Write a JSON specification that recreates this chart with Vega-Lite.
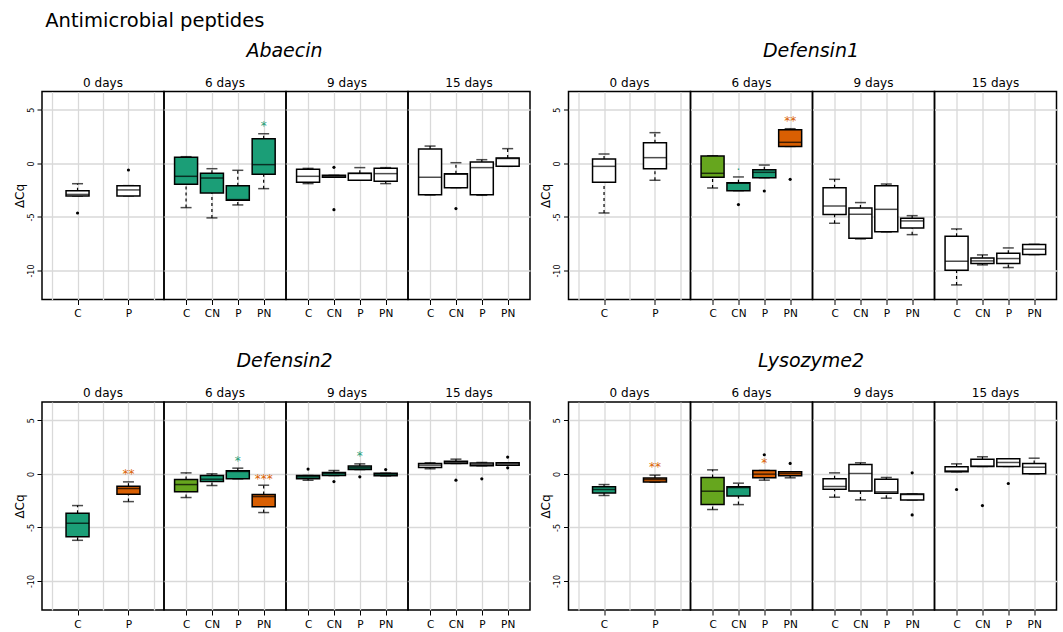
{
"$schema": "https://vega.github.io/schema/vega-lite/v6.json",
"padding": {"left": 12, "top": 10.5, "right": 5, "bottom": 0},
"title": {"text": "Antimicrobial peptides", "anchor": "start", "fontSize": 19.5, "fontWeight": "normal", "offset": -5, "dx": 33, "baseline": "alphabetic"},
"data": {"values": [
{"gene":"Abaecin","day":"0 days","grp":"C","lo":-3.05,"q1":-3.05,"med":-2.9,"q3":-2.55,"hi":-1.9,"fill":"ns"},
{"gene":"Abaecin","day":"0 days","grp":"P","lo":-3.04,"q1":-3.04,"med":-2.48,"q3":-2.08,"hi":-2.08,"fill":"ns"},
{"gene":"Abaecin","day":"6 days","grp":"C","lo":-4.13,"q1":-1.96,"med":-1.21,"q3":0.56,"hi":0.62,"fill":"sigA"},
{"gene":"Abaecin","day":"6 days","grp":"CN","lo":-5.09,"q1":-2.76,"med":-1.37,"q3":-0.93,"hi":-0.5,"fill":"sigA"},
{"gene":"Abaecin","day":"6 days","grp":"P","lo":-3.88,"q1":-3.45,"med":-3.38,"q3":-2.08,"hi":-0.65,"fill":"sigA"},
{"gene":"Abaecin","day":"6 days","grp":"PN","lo":-2.36,"q1":-1.02,"med":-0.12,"q3":2.3,"hi":2.76,"fill":"sigA"},
{"gene":"Abaecin","day":"9 days","grp":"C","lo":-1.89,"q1":-1.77,"med":-1.21,"q3":-0.56,"hi":-0.47,"fill":"ns"},
{"gene":"Abaecin","day":"9 days","grp":"CN","lo":-1.3,"q1":-1.3,"med":-1.21,"q3":-1.12,"hi":-1.12,"fill":"ns"},
{"gene":"Abaecin","day":"9 days","grp":"P","lo":-1.58,"q1":-1.58,"med":-0.95,"q3":-0.93,"hi":-0.4,"fill":"ns"},
{"gene":"Abaecin","day":"9 days","grp":"PN","lo":-1.89,"q1":-1.68,"med":-0.96,"q3":-0.47,"hi":-0.4,"fill":"ns"},
{"gene":"Abaecin","day":"15 days","grp":"C","lo":-2.95,"q1":-2.92,"med":-1.3,"q3":1.34,"hi":1.61,"fill":"ns"},
{"gene":"Abaecin","day":"15 days","grp":"CN","lo":-2.27,"q1":-2.27,"med":-1.02,"q3":-0.96,"hi":0.06,"fill":"ns"},
{"gene":"Abaecin","day":"15 days","grp":"P","lo":-2.98,"q1":-2.92,"med":-0.4,"q3":0.12,"hi":0.34,"fill":"ns"},
{"gene":"Abaecin","day":"15 days","grp":"PN","lo":-0.28,"q1":-0.28,"med":0.45,"q3":0.5,"hi":1.37,"fill":"ns"},
{"gene":"Abaecin","day":"0 days","grp":"C","out":-4.63},
{"gene":"Abaecin","day":"0 days","grp":"P","out":-0.62},
{"gene":"Abaecin","day":"9 days","grp":"CN","out":-0.37},
{"gene":"Abaecin","day":"9 days","grp":"CN","out":-4.32},
{"gene":"Abaecin","day":"15 days","grp":"CN","out":-4.22},
{"gene":"Abaecin","day":"6 days","grp":"PN","sy":3.73,"sig":"*","fill":"sigA"},

{"gene":"Defensin1","day":"0 days","grp":"C","lo":-4.63,"q1":-1.77,"med":-0.28,"q3":0.4,"hi":0.87,"fill":"ns"},
{"gene":"Defensin1","day":"0 days","grp":"P","lo":-1.58,"q1":-0.5,"med":0.53,"q3":1.93,"hi":2.86,"fill":"ns"},
{"gene":"Defensin1","day":"6 days","grp":"C","lo":-2.3,"q1":-1.3,"med":-0.93,"q3":0.68,"hi":0.71,"fill":"ref"},
{"gene":"Defensin1","day":"6 days","grp":"CN","lo":-2.55,"q1":-2.55,"med":-1.86,"q3":-1.8,"hi":-1.27,"fill":"sigA"},
{"gene":"Defensin1","day":"6 days","grp":"P","lo":-1.34,"q1":-1.34,"med":-0.84,"q3":-0.59,"hi":-0.16,"fill":"sigA"},
{"gene":"Defensin1","day":"6 days","grp":"PN","lo":1.58,"q1":1.58,"med":1.96,"q3":3.14,"hi":3.23,"fill":"sigB"},
{"gene":"Defensin1","day":"9 days","grp":"C","lo":-5.59,"q1":-4.78,"med":-3.98,"q3":-2.27,"hi":-1.49,"fill":"ns"},
{"gene":"Defensin1","day":"9 days","grp":"CN","lo":-7.05,"q1":-6.99,"med":-4.75,"q3":-4.16,"hi":-3.66,"fill":"ns"},
{"gene":"Defensin1","day":"9 days","grp":"P","lo":-6.4,"q1":-6.37,"med":-4.29,"q3":-2.08,"hi":-1.93,"fill":"ns"},
{"gene":"Defensin1","day":"9 days","grp":"PN","lo":-6.65,"q1":-6.02,"med":-5.37,"q3":-5.12,"hi":-4.88,"fill":"ns"},
{"gene":"Defensin1","day":"15 days","grp":"C","lo":-11.34,"q1":-9.97,"med":-9.13,"q3":-6.8,"hi":-6.12,"fill":"ns"},
{"gene":"Defensin1","day":"15 days","grp":"CN","lo":-9.47,"q1":-9.35,"med":-9.1,"q3":-8.82,"hi":-8.54,"fill":"ns"},
{"gene":"Defensin1","day":"15 days","grp":"P","lo":-9.72,"q1":-9.35,"med":-8.88,"q3":-8.39,"hi":-7.89,"fill":"ns"},
{"gene":"Defensin1","day":"15 days","grp":"PN","lo":-8.51,"q1":-8.51,"med":-8.01,"q3":-7.58,"hi":-7.55,"fill":"ns"},
{"gene":"Defensin1","day":"6 days","grp":"CN","out":-3.85},
{"gene":"Defensin1","day":"6 days","grp":"P","out":-2.58},
{"gene":"Defensin1","day":"6 days","grp":"PN","out":-1.49},
{"gene":"Defensin1","day":"6 days","grp":"CN","sy":-0.31,"sig":"·","fill":"sigA"},
{"gene":"Defensin1","day":"6 days","grp":"PN","sy":4.19,"sig":"**","fill":"sigB"},

{"gene":"Defensin2","day":"0 days","grp":"C","lo":-6.2,"q1":-5.86,"med":-4.61,"q3":-3.68,"hi":-2.96,"fill":"sigA"},
{"gene":"Defensin2","day":"0 days","grp":"P","lo":-2.59,"q1":-1.9,"med":-1.37,"q3":-1.15,"hi":-0.75,"fill":"sigB"},
{"gene":"Defensin2","day":"6 days","grp":"C","lo":-2.21,"q1":-1.68,"med":-1.0,"q3":-0.53,"hi":0.09,"fill":"ref"},
{"gene":"Defensin2","day":"6 days","grp":"CN","lo":-1.09,"q1":-0.72,"med":-0.5,"q3":-0.16,"hi":0.0,"fill":"sigA"},
{"gene":"Defensin2","day":"6 days","grp":"P","lo":-0.47,"q1":-0.47,"med":0.22,"q3":0.28,"hi":0.53,"fill":"sigA"},
{"gene":"Defensin2","day":"6 days","grp":"PN","lo":-3.61,"q1":-3.08,"med":-2.12,"q3":-1.93,"hi":-1.06,"fill":"sigB"},
{"gene":"Defensin2","day":"9 days","grp":"C","lo":-0.6,"q1":-0.47,"med":-0.28,"q3":-0.16,"hi":-0.16,"fill":"sigA"},
{"gene":"Defensin2","day":"9 days","grp":"CN","lo":-0.16,"q1":-0.16,"med":0.03,"q3":0.12,"hi":0.31,"fill":"sigA"},
{"gene":"Defensin2","day":"9 days","grp":"P","lo":0.4,"q1":0.4,"med":0.56,"q3":0.72,"hi":0.93,"fill":"sigA"},
{"gene":"Defensin2","day":"9 days","grp":"PN","lo":-0.19,"q1":-0.19,"med":-0.03,"q3":0.06,"hi":0.06,"fill":"sigA"},
{"gene":"Defensin2","day":"15 days","grp":"C","lo":0.47,"q1":0.59,"med":0.81,"q3":0.97,"hi":1.03,"fill":"ns"},
{"gene":"Defensin2","day":"15 days","grp":"CN","lo":0.97,"q1":0.97,"med":1.06,"q3":1.18,"hi":1.37,"fill":"ns"},
{"gene":"Defensin2","day":"15 days","grp":"P","lo":0.75,"q1":0.75,"med":0.87,"q3":1.0,"hi":1.06,"fill":"ns"},
{"gene":"Defensin2","day":"15 days","grp":"PN","lo":0.81,"q1":0.81,"med":0.93,"q3":1.03,"hi":1.03,"fill":"ns"},
{"gene":"Defensin2","day":"9 days","grp":"C","out":0.44},
{"gene":"Defensin2","day":"9 days","grp":"CN","out":-0.72},
{"gene":"Defensin2","day":"9 days","grp":"P","out":-0.28},
{"gene":"Defensin2","day":"9 days","grp":"PN","out":0.4},
{"gene":"Defensin2","day":"15 days","grp":"CN","out":-0.59},
{"gene":"Defensin2","day":"15 days","grp":"P","out":-0.47},
{"gene":"Defensin2","day":"15 days","grp":"PN","out":1.56},
{"gene":"Defensin2","day":"15 days","grp":"PN","out":0.56},
{"gene":"Defensin2","day":"0 days","grp":"P","sy":0.22,"sig":"**","fill":"sigB"},
{"gene":"Defensin2","day":"6 days","grp":"P","sy":1.5,"sig":"*","fill":"sigA"},
{"gene":"Defensin2","day":"6 days","grp":"PN","sy":-0.16,"sig":"***","fill":"sigB"},
{"gene":"Defensin2","day":"9 days","grp":"P","sy":1.93,"sig":"*","fill":"sigA"},

{"gene":"Lysozyme2","day":"0 days","grp":"C","lo":-2.02,"q1":-1.78,"med":-1.46,"q3":-1.21,"hi":-1.0,"fill":"sigA"},
{"gene":"Lysozyme2","day":"0 days","grp":"P","lo":-0.78,"q1":-0.75,"med":-0.53,"q3":-0.4,"hi":-0.12,"fill":"sigB"},
{"gene":"Lysozyme2","day":"6 days","grp":"C","lo":-3.33,"q1":-2.87,"med":-1.62,"q3":-0.34,"hi":0.37,"fill":"ref"},
{"gene":"Lysozyme2","day":"6 days","grp":"CN","lo":-2.87,"q1":-2.06,"med":-1.28,"q3":-1.21,"hi":-0.87,"fill":"sigA"},
{"gene":"Lysozyme2","day":"6 days","grp":"P","lo":-0.59,"q1":-0.37,"med":-0.03,"q3":0.31,"hi":0.31,"fill":"sigB"},
{"gene":"Lysozyme2","day":"6 days","grp":"PN","lo":-0.37,"q1":-0.19,"med":0.03,"q3":0.19,"hi":0.19,"fill":"sigB"},
{"gene":"Lysozyme2","day":"9 days","grp":"C","lo":-2.18,"q1":-1.43,"med":-1.18,"q3":-0.47,"hi":0.09,"fill":"ns"},
{"gene":"Lysozyme2","day":"9 days","grp":"CN","lo":-2.43,"q1":-1.59,"med":0.03,"q3":0.87,"hi":1.03,"fill":"ns"},
{"gene":"Lysozyme2","day":"9 days","grp":"P","lo":-2.27,"q1":-1.81,"med":-1.68,"q3":-0.5,"hi":-0.34,"fill":"ns"},
{"gene":"Lysozyme2","day":"9 days","grp":"PN","lo":-2.43,"q1":-2.43,"med":-1.93,"q3":-1.87,"hi":-1.87,"fill":"ns"},
{"gene":"Lysozyme2","day":"15 days","grp":"C","lo":0.19,"q1":0.19,"med":0.28,"q3":0.65,"hi":0.93,"fill":"ns"},
{"gene":"Lysozyme2","day":"15 days","grp":"CN","lo":0.69,"q1":0.69,"med":0.72,"q3":1.37,"hi":1.59,"fill":"ns"},
{"gene":"Lysozyme2","day":"15 days","grp":"P","lo":0.69,"q1":0.69,"med":1.06,"q3":1.4,"hi":1.4,"fill":"ns"},
{"gene":"Lysozyme2","day":"15 days","grp":"PN","lo":0.0,"q1":0.0,"med":0.62,"q3":0.97,"hi":1.46,"fill":"ns"},
{"gene":"Lysozyme2","day":"6 days","grp":"P","out":1.78},
{"gene":"Lysozyme2","day":"6 days","grp":"PN","out":0.97},
{"gene":"Lysozyme2","day":"9 days","grp":"PN","out":0.09},
{"gene":"Lysozyme2","day":"9 days","grp":"PN","out":-3.83},
{"gene":"Lysozyme2","day":"15 days","grp":"C","out":-1.46},
{"gene":"Lysozyme2","day":"15 days","grp":"CN","out":-2.96},
{"gene":"Lysozyme2","day":"15 days","grp":"P","out":-0.9},
{"gene":"Lysozyme2","day":"0 days","grp":"P","sy":0.9,"sig":"**","fill":"sigB"},
{"gene":"Lysozyme2","day":"6 days","grp":"P","sy":1.28,"sig":"*","fill":"sigB"}
]},
"transform": [{"calculate": "datum.day == '0 days' ? (datum.grp == 'C' ? 1 : 2) : indexof(['C','CN','P','PN'], datum.grp) + 1", "as": "pos"}],
"spacing": 31.5,
"vconcat": [
{"spacing": 7.5, "hconcat": [
 {"title": {"text": "Abaecin", "fontSize": 19, "fontStyle": "italic", "fontWeight": "normal", "anchor": "middle", "frame": "bounds", "dx": 13, "offset": 0, "baseline": "alphabetic"}, "spacing": 0, "bounds": "flush", "align": "none", "hconcat": [
  {"title": "0 days", "width": 122, "height": 208, "transform": [{"filter": "datum.gene == 'Abaecin' && datum.day == '0 days'"}],
   "encoding": {"x": {"field": "pos", "type": "quantitative", "title": null, "scale": {"domain": [0.4, 2.6], "nice": false, "zero": false}, "axis": {"values": [0.5, 1, 1.5, 2, 2.5], "labelExpr": "datum.value == 1 ? 'C' : datum.value == 2 ? 'P' : ''", "tickOpacity": {"condition": {"test": "datum.value % 1 == 0", "value": 1}, "value": 0}}}},
   "layer": [
    {"mark": {"type": "rule", "strokeDash": [3, 3], "strokeWidth": 1.2, "color": "black"}, "transform": [{"filter": "isValid(datum.q3)"}], "encoding": {"y": {"field": "q3", "type": "quantitative", "scale": {"domain": [-12.7, 6.7], "nice": false, "zero": false}, "axis": {"title": "ΔCq", "values": [-10, -5, 0, 5], "labelExpr": "'' + datum.value", "labelAngle": 270, "labelFontSize": 8, "tickSize": 5, "titleFontSize": 12, "titleFontWeight": "normal", "titlePadding": 1, "labelPadding": 2}}, "y2": {"field": "hi"}}},
    {"mark": {"type": "rule", "strokeDash": [3, 3], "strokeWidth": 1.2, "color": "black"}, "transform": [{"filter": "isValid(datum.q1)"}], "encoding": {"y": {"field": "lo", "type": "quantitative"}, "y2": {"field": "q1"}}},
    {"mark": {"type": "tick", "orient": "horizontal", "size": 11, "thickness": 1.5, "color": "black"}, "transform": [{"filter": "isValid(datum.hi)"}], "encoding": {"y": {"field": "hi", "type": "quantitative"}}},
    {"mark": {"type": "tick", "orient": "horizontal", "size": 11, "thickness": 1.5, "color": "black"}, "transform": [{"filter": "isValid(datum.lo)"}], "encoding": {"y": {"field": "lo", "type": "quantitative"}}},
    {"mark": {"type": "bar", "orient": "vertical", "size": 23, "stroke": "black", "strokeWidth": 1.5}, "transform": [{"filter": "isValid(datum.q1)"}], "encoding": {"y": {"field": "q1", "type": "quantitative"}, "y2": {"field": "q3"}, "fill": {"field": "fill", "type": "nominal", "scale": {"domain": ["ns", "sigA", "sigB", "ref"], "range": ["white", "#1b9e77", "#d95f02", "#66a61e"]}, "legend": null}}},
    {"mark": {"type": "tick", "orient": "horizontal", "size": 23, "thickness": 1.5, "color": "black"}, "transform": [{"filter": "isValid(datum.med)"}], "encoding": {"y": {"field": "med", "type": "quantitative"}}},
    {"mark": {"type": "point", "filled": true, "size": 10, "color": "black", "opacity": 1}, "transform": [{"filter": "isValid(datum.out)"}], "encoding": {"y": {"field": "out", "type": "quantitative"}}},
    {"mark": {"type": "text", "fontSize": 12, "baseline": "middle", "dy": 3}, "transform": [{"filter": "isValid(datum.sy)"}], "encoding": {"y": {"field": "sy", "type": "quantitative"}, "text": {"field": "sig"}, "fill": {"field": "fill", "type": "nominal", "scale": {"domain": ["ns", "sigA", "sigB", "ref"], "range": ["white", "#1b9e77", "#d95f02", "#66a61e"]}, "legend": null}}}
   ]},
  {"title": "6 days", "width": 122, "height": 208, "transform": [{"filter": "datum.gene == 'Abaecin' && datum.day == '6 days'"}],
   "encoding": {"x": {"field": "pos", "type": "quantitative", "title": null, "scale": {"domain": [0.34, 4.67], "nice": false, "zero": false}, "axis": {"values": [1, 2, 3, 4], "labelExpr": "['C','CN','P','PN'][datum.value - 1]"}}},
   "layer": [
    {"mark": {"type": "rule", "strokeDash": [3, 3], "strokeWidth": 1.2, "color": "black"}, "transform": [{"filter": "isValid(datum.q3)"}], "encoding": {"y": {"field": "q3", "type": "quantitative", "scale": {"domain": [-12.7, 6.7], "nice": false, "zero": false}, "axis": {"title": null, "values": [-10, -5, 0, 5], "labels": false, "ticks": false}}, "y2": {"field": "hi"}}},
    {"mark": {"type": "rule", "strokeDash": [3, 3], "strokeWidth": 1.2, "color": "black"}, "transform": [{"filter": "isValid(datum.q1)"}], "encoding": {"y": {"field": "lo", "type": "quantitative"}, "y2": {"field": "q1"}}},
    {"mark": {"type": "tick", "orient": "horizontal", "size": 11, "thickness": 1.5, "color": "black"}, "transform": [{"filter": "isValid(datum.hi)"}], "encoding": {"y": {"field": "hi", "type": "quantitative"}}},
    {"mark": {"type": "tick", "orient": "horizontal", "size": 11, "thickness": 1.5, "color": "black"}, "transform": [{"filter": "isValid(datum.lo)"}], "encoding": {"y": {"field": "lo", "type": "quantitative"}}},
    {"mark": {"type": "bar", "orient": "vertical", "size": 23, "stroke": "black", "strokeWidth": 1.5}, "transform": [{"filter": "isValid(datum.q1)"}], "encoding": {"y": {"field": "q1", "type": "quantitative"}, "y2": {"field": "q3"}, "fill": {"field": "fill", "type": "nominal", "scale": {"domain": ["ns", "sigA", "sigB", "ref"], "range": ["white", "#1b9e77", "#d95f02", "#66a61e"]}, "legend": null}}},
    {"mark": {"type": "tick", "orient": "horizontal", "size": 23, "thickness": 1.5, "color": "black"}, "transform": [{"filter": "isValid(datum.med)"}], "encoding": {"y": {"field": "med", "type": "quantitative"}}},
    {"mark": {"type": "point", "filled": true, "size": 10, "color": "black", "opacity": 1}, "transform": [{"filter": "isValid(datum.out)"}], "encoding": {"y": {"field": "out", "type": "quantitative"}}},
    {"mark": {"type": "text", "fontSize": 12, "baseline": "middle", "dy": 3}, "transform": [{"filter": "isValid(datum.sy)"}], "encoding": {"y": {"field": "sy", "type": "quantitative"}, "text": {"field": "sig"}, "fill": {"field": "fill", "type": "nominal", "scale": {"domain": ["ns", "sigA", "sigB", "ref"], "range": ["white", "#1b9e77", "#d95f02", "#66a61e"]}, "legend": null}}}
   ]},
  {"title": "9 days", "width": 122, "height": 208, "transform": [{"filter": "datum.gene == 'Abaecin' && datum.day == '9 days'"}],
   "encoding": {"x": {"field": "pos", "type": "quantitative", "title": null, "scale": {"domain": [0.34, 4.67], "nice": false, "zero": false}, "axis": {"values": [1, 2, 3, 4], "labelExpr": "['C','CN','P','PN'][datum.value - 1]"}}},
   "layer": [
    {"mark": {"type": "rule", "strokeDash": [3, 3], "strokeWidth": 1.2, "color": "black"}, "transform": [{"filter": "isValid(datum.q3)"}], "encoding": {"y": {"field": "q3", "type": "quantitative", "scale": {"domain": [-12.7, 6.7], "nice": false, "zero": false}, "axis": {"title": null, "values": [-10, -5, 0, 5], "labels": false, "ticks": false}}, "y2": {"field": "hi"}}},
    {"mark": {"type": "rule", "strokeDash": [3, 3], "strokeWidth": 1.2, "color": "black"}, "transform": [{"filter": "isValid(datum.q1)"}], "encoding": {"y": {"field": "lo", "type": "quantitative"}, "y2": {"field": "q1"}}},
    {"mark": {"type": "tick", "orient": "horizontal", "size": 11, "thickness": 1.5, "color": "black"}, "transform": [{"filter": "isValid(datum.hi)"}], "encoding": {"y": {"field": "hi", "type": "quantitative"}}},
    {"mark": {"type": "tick", "orient": "horizontal", "size": 11, "thickness": 1.5, "color": "black"}, "transform": [{"filter": "isValid(datum.lo)"}], "encoding": {"y": {"field": "lo", "type": "quantitative"}}},
    {"mark": {"type": "bar", "orient": "vertical", "size": 23, "stroke": "black", "strokeWidth": 1.5}, "transform": [{"filter": "isValid(datum.q1)"}], "encoding": {"y": {"field": "q1", "type": "quantitative"}, "y2": {"field": "q3"}, "fill": {"field": "fill", "type": "nominal", "scale": {"domain": ["ns", "sigA", "sigB", "ref"], "range": ["white", "#1b9e77", "#d95f02", "#66a61e"]}, "legend": null}}},
    {"mark": {"type": "tick", "orient": "horizontal", "size": 23, "thickness": 1.5, "color": "black"}, "transform": [{"filter": "isValid(datum.med)"}], "encoding": {"y": {"field": "med", "type": "quantitative"}}},
    {"mark": {"type": "point", "filled": true, "size": 10, "color": "black", "opacity": 1}, "transform": [{"filter": "isValid(datum.out)"}], "encoding": {"y": {"field": "out", "type": "quantitative"}}},
    {"mark": {"type": "text", "fontSize": 12, "baseline": "middle", "dy": 3}, "transform": [{"filter": "isValid(datum.sy)"}], "encoding": {"y": {"field": "sy", "type": "quantitative"}, "text": {"field": "sig"}, "fill": {"field": "fill", "type": "nominal", "scale": {"domain": ["ns", "sigA", "sigB", "ref"], "range": ["white", "#1b9e77", "#d95f02", "#66a61e"]}, "legend": null}}}
   ]},
  {"title": "15 days", "width": 122, "height": 208, "transform": [{"filter": "datum.gene == 'Abaecin' && datum.day == '15 days'"}],
   "encoding": {"x": {"field": "pos", "type": "quantitative", "title": null, "scale": {"domain": [0.34, 4.67], "nice": false, "zero": false}, "axis": {"values": [1, 2, 3, 4], "labelExpr": "['C','CN','P','PN'][datum.value - 1]"}}},
   "layer": [
    {"mark": {"type": "rule", "strokeDash": [3, 3], "strokeWidth": 1.2, "color": "black"}, "transform": [{"filter": "isValid(datum.q3)"}], "encoding": {"y": {"field": "q3", "type": "quantitative", "scale": {"domain": [-12.7, 6.7], "nice": false, "zero": false}, "axis": {"title": null, "values": [-10, -5, 0, 5], "labels": false, "ticks": false}}, "y2": {"field": "hi"}}},
    {"mark": {"type": "rule", "strokeDash": [3, 3], "strokeWidth": 1.2, "color": "black"}, "transform": [{"filter": "isValid(datum.q1)"}], "encoding": {"y": {"field": "lo", "type": "quantitative"}, "y2": {"field": "q1"}}},
    {"mark": {"type": "tick", "orient": "horizontal", "size": 11, "thickness": 1.5, "color": "black"}, "transform": [{"filter": "isValid(datum.hi)"}], "encoding": {"y": {"field": "hi", "type": "quantitative"}}},
    {"mark": {"type": "tick", "orient": "horizontal", "size": 11, "thickness": 1.5, "color": "black"}, "transform": [{"filter": "isValid(datum.lo)"}], "encoding": {"y": {"field": "lo", "type": "quantitative"}}},
    {"mark": {"type": "bar", "orient": "vertical", "size": 23, "stroke": "black", "strokeWidth": 1.5}, "transform": [{"filter": "isValid(datum.q1)"}], "encoding": {"y": {"field": "q1", "type": "quantitative"}, "y2": {"field": "q3"}, "fill": {"field": "fill", "type": "nominal", "scale": {"domain": ["ns", "sigA", "sigB", "ref"], "range": ["white", "#1b9e77", "#d95f02", "#66a61e"]}, "legend": null}}},
    {"mark": {"type": "tick", "orient": "horizontal", "size": 23, "thickness": 1.5, "color": "black"}, "transform": [{"filter": "isValid(datum.med)"}], "encoding": {"y": {"field": "med", "type": "quantitative"}}},
    {"mark": {"type": "point", "filled": true, "size": 10, "color": "black", "opacity": 1}, "transform": [{"filter": "isValid(datum.out)"}], "encoding": {"y": {"field": "out", "type": "quantitative"}}},
    {"mark": {"type": "text", "fontSize": 12, "baseline": "middle", "dy": 3}, "transform": [{"filter": "isValid(datum.sy)"}], "encoding": {"y": {"field": "sy", "type": "quantitative"}, "text": {"field": "sig"}, "fill": {"field": "fill", "type": "nominal", "scale": {"domain": ["ns", "sigA", "sigB", "ref"], "range": ["white", "#1b9e77", "#d95f02", "#66a61e"]}, "legend": null}}}
   ]}
 ]},
 {"title": {"text": "Defensin1", "fontSize": 19, "fontStyle": "italic", "fontWeight": "normal", "anchor": "middle", "frame": "bounds", "dx": 13, "offset": 0, "baseline": "alphabetic"}, "spacing": 0, "bounds": "flush", "align": "none", "hconcat": [
  {"title": "0 days", "width": 122, "height": 208, "transform": [{"filter": "datum.gene == 'Defensin1' && datum.day == '0 days'"}],
   "encoding": {"x": {"field": "pos", "type": "quantitative", "title": null, "scale": {"domain": [0.4, 2.6], "nice": false, "zero": false}, "axis": {"values": [0.5, 1, 1.5, 2, 2.5], "labelExpr": "datum.value == 1 ? 'C' : datum.value == 2 ? 'P' : ''", "tickOpacity": {"condition": {"test": "datum.value % 1 == 0", "value": 1}, "value": 0}}}},
   "layer": [
    {"mark": {"type": "rule", "strokeDash": [3, 3], "strokeWidth": 1.2, "color": "black"}, "transform": [{"filter": "isValid(datum.q3)"}], "encoding": {"y": {"field": "q3", "type": "quantitative", "scale": {"domain": [-12.7, 6.7], "nice": false, "zero": false}, "axis": {"title": "ΔCq", "values": [-10, -5, 0, 5], "labelExpr": "'' + datum.value", "labelAngle": 270, "labelFontSize": 8, "tickSize": 5, "titleFontSize": 12, "titleFontWeight": "normal", "titlePadding": 1, "labelPadding": 2}}, "y2": {"field": "hi"}}},
    {"mark": {"type": "rule", "strokeDash": [3, 3], "strokeWidth": 1.2, "color": "black"}, "transform": [{"filter": "isValid(datum.q1)"}], "encoding": {"y": {"field": "lo", "type": "quantitative"}, "y2": {"field": "q1"}}},
    {"mark": {"type": "tick", "orient": "horizontal", "size": 11, "thickness": 1.5, "color": "black"}, "transform": [{"filter": "isValid(datum.hi)"}], "encoding": {"y": {"field": "hi", "type": "quantitative"}}},
    {"mark": {"type": "tick", "orient": "horizontal", "size": 11, "thickness": 1.5, "color": "black"}, "transform": [{"filter": "isValid(datum.lo)"}], "encoding": {"y": {"field": "lo", "type": "quantitative"}}},
    {"mark": {"type": "bar", "orient": "vertical", "size": 23, "stroke": "black", "strokeWidth": 1.5}, "transform": [{"filter": "isValid(datum.q1)"}], "encoding": {"y": {"field": "q1", "type": "quantitative"}, "y2": {"field": "q3"}, "fill": {"field": "fill", "type": "nominal", "scale": {"domain": ["ns", "sigA", "sigB", "ref"], "range": ["white", "#1b9e77", "#d95f02", "#66a61e"]}, "legend": null}}},
    {"mark": {"type": "tick", "orient": "horizontal", "size": 23, "thickness": 1.5, "color": "black"}, "transform": [{"filter": "isValid(datum.med)"}], "encoding": {"y": {"field": "med", "type": "quantitative"}}},
    {"mark": {"type": "point", "filled": true, "size": 10, "color": "black", "opacity": 1}, "transform": [{"filter": "isValid(datum.out)"}], "encoding": {"y": {"field": "out", "type": "quantitative"}}},
    {"mark": {"type": "text", "fontSize": 12, "baseline": "middle", "dy": 3}, "transform": [{"filter": "isValid(datum.sy)"}], "encoding": {"y": {"field": "sy", "type": "quantitative"}, "text": {"field": "sig"}, "fill": {"field": "fill", "type": "nominal", "scale": {"domain": ["ns", "sigA", "sigB", "ref"], "range": ["white", "#1b9e77", "#d95f02", "#66a61e"]}, "legend": null}}}
   ]},
  {"title": "6 days", "width": 122, "height": 208, "transform": [{"filter": "datum.gene == 'Defensin1' && datum.day == '6 days'"}],
   "encoding": {"x": {"field": "pos", "type": "quantitative", "title": null, "scale": {"domain": [0.34, 4.67], "nice": false, "zero": false}, "axis": {"values": [1, 2, 3, 4], "labelExpr": "['C','CN','P','PN'][datum.value - 1]"}}},
   "layer": [
    {"mark": {"type": "rule", "strokeDash": [3, 3], "strokeWidth": 1.2, "color": "black"}, "transform": [{"filter": "isValid(datum.q3)"}], "encoding": {"y": {"field": "q3", "type": "quantitative", "scale": {"domain": [-12.7, 6.7], "nice": false, "zero": false}, "axis": {"title": null, "values": [-10, -5, 0, 5], "labels": false, "ticks": false}}, "y2": {"field": "hi"}}},
    {"mark": {"type": "rule", "strokeDash": [3, 3], "strokeWidth": 1.2, "color": "black"}, "transform": [{"filter": "isValid(datum.q1)"}], "encoding": {"y": {"field": "lo", "type": "quantitative"}, "y2": {"field": "q1"}}},
    {"mark": {"type": "tick", "orient": "horizontal", "size": 11, "thickness": 1.5, "color": "black"}, "transform": [{"filter": "isValid(datum.hi)"}], "encoding": {"y": {"field": "hi", "type": "quantitative"}}},
    {"mark": {"type": "tick", "orient": "horizontal", "size": 11, "thickness": 1.5, "color": "black"}, "transform": [{"filter": "isValid(datum.lo)"}], "encoding": {"y": {"field": "lo", "type": "quantitative"}}},
    {"mark": {"type": "bar", "orient": "vertical", "size": 23, "stroke": "black", "strokeWidth": 1.5}, "transform": [{"filter": "isValid(datum.q1)"}], "encoding": {"y": {"field": "q1", "type": "quantitative"}, "y2": {"field": "q3"}, "fill": {"field": "fill", "type": "nominal", "scale": {"domain": ["ns", "sigA", "sigB", "ref"], "range": ["white", "#1b9e77", "#d95f02", "#66a61e"]}, "legend": null}}},
    {"mark": {"type": "tick", "orient": "horizontal", "size": 23, "thickness": 1.5, "color": "black"}, "transform": [{"filter": "isValid(datum.med)"}], "encoding": {"y": {"field": "med", "type": "quantitative"}}},
    {"mark": {"type": "point", "filled": true, "size": 10, "color": "black", "opacity": 1}, "transform": [{"filter": "isValid(datum.out)"}], "encoding": {"y": {"field": "out", "type": "quantitative"}}},
    {"mark": {"type": "text", "fontSize": 12, "baseline": "middle", "dy": 3}, "transform": [{"filter": "isValid(datum.sy)"}], "encoding": {"y": {"field": "sy", "type": "quantitative"}, "text": {"field": "sig"}, "fill": {"field": "fill", "type": "nominal", "scale": {"domain": ["ns", "sigA", "sigB", "ref"], "range": ["white", "#1b9e77", "#d95f02", "#66a61e"]}, "legend": null}}}
   ]},
  {"title": "9 days", "width": 122, "height": 208, "transform": [{"filter": "datum.gene == 'Defensin1' && datum.day == '9 days'"}],
   "encoding": {"x": {"field": "pos", "type": "quantitative", "title": null, "scale": {"domain": [0.34, 4.67], "nice": false, "zero": false}, "axis": {"values": [1, 2, 3, 4], "labelExpr": "['C','CN','P','PN'][datum.value - 1]"}}},
   "layer": [
    {"mark": {"type": "rule", "strokeDash": [3, 3], "strokeWidth": 1.2, "color": "black"}, "transform": [{"filter": "isValid(datum.q3)"}], "encoding": {"y": {"field": "q3", "type": "quantitative", "scale": {"domain": [-12.7, 6.7], "nice": false, "zero": false}, "axis": {"title": null, "values": [-10, -5, 0, 5], "labels": false, "ticks": false}}, "y2": {"field": "hi"}}},
    {"mark": {"type": "rule", "strokeDash": [3, 3], "strokeWidth": 1.2, "color": "black"}, "transform": [{"filter": "isValid(datum.q1)"}], "encoding": {"y": {"field": "lo", "type": "quantitative"}, "y2": {"field": "q1"}}},
    {"mark": {"type": "tick", "orient": "horizontal", "size": 11, "thickness": 1.5, "color": "black"}, "transform": [{"filter": "isValid(datum.hi)"}], "encoding": {"y": {"field": "hi", "type": "quantitative"}}},
    {"mark": {"type": "tick", "orient": "horizontal", "size": 11, "thickness": 1.5, "color": "black"}, "transform": [{"filter": "isValid(datum.lo)"}], "encoding": {"y": {"field": "lo", "type": "quantitative"}}},
    {"mark": {"type": "bar", "orient": "vertical", "size": 23, "stroke": "black", "strokeWidth": 1.5}, "transform": [{"filter": "isValid(datum.q1)"}], "encoding": {"y": {"field": "q1", "type": "quantitative"}, "y2": {"field": "q3"}, "fill": {"field": "fill", "type": "nominal", "scale": {"domain": ["ns", "sigA", "sigB", "ref"], "range": ["white", "#1b9e77", "#d95f02", "#66a61e"]}, "legend": null}}},
    {"mark": {"type": "tick", "orient": "horizontal", "size": 23, "thickness": 1.5, "color": "black"}, "transform": [{"filter": "isValid(datum.med)"}], "encoding": {"y": {"field": "med", "type": "quantitative"}}},
    {"mark": {"type": "point", "filled": true, "size": 10, "color": "black", "opacity": 1}, "transform": [{"filter": "isValid(datum.out)"}], "encoding": {"y": {"field": "out", "type": "quantitative"}}},
    {"mark": {"type": "text", "fontSize": 12, "baseline": "middle", "dy": 3}, "transform": [{"filter": "isValid(datum.sy)"}], "encoding": {"y": {"field": "sy", "type": "quantitative"}, "text": {"field": "sig"}, "fill": {"field": "fill", "type": "nominal", "scale": {"domain": ["ns", "sigA", "sigB", "ref"], "range": ["white", "#1b9e77", "#d95f02", "#66a61e"]}, "legend": null}}}
   ]},
  {"title": "15 days", "width": 122, "height": 208, "transform": [{"filter": "datum.gene == 'Defensin1' && datum.day == '15 days'"}],
   "encoding": {"x": {"field": "pos", "type": "quantitative", "title": null, "scale": {"domain": [0.34, 4.67], "nice": false, "zero": false}, "axis": {"values": [1, 2, 3, 4], "labelExpr": "['C','CN','P','PN'][datum.value - 1]"}}},
   "layer": [
    {"mark": {"type": "rule", "strokeDash": [3, 3], "strokeWidth": 1.2, "color": "black"}, "transform": [{"filter": "isValid(datum.q3)"}], "encoding": {"y": {"field": "q3", "type": "quantitative", "scale": {"domain": [-12.7, 6.7], "nice": false, "zero": false}, "axis": {"title": null, "values": [-10, -5, 0, 5], "labels": false, "ticks": false}}, "y2": {"field": "hi"}}},
    {"mark": {"type": "rule", "strokeDash": [3, 3], "strokeWidth": 1.2, "color": "black"}, "transform": [{"filter": "isValid(datum.q1)"}], "encoding": {"y": {"field": "lo", "type": "quantitative"}, "y2": {"field": "q1"}}},
    {"mark": {"type": "tick", "orient": "horizontal", "size": 11, "thickness": 1.5, "color": "black"}, "transform": [{"filter": "isValid(datum.hi)"}], "encoding": {"y": {"field": "hi", "type": "quantitative"}}},
    {"mark": {"type": "tick", "orient": "horizontal", "size": 11, "thickness": 1.5, "color": "black"}, "transform": [{"filter": "isValid(datum.lo)"}], "encoding": {"y": {"field": "lo", "type": "quantitative"}}},
    {"mark": {"type": "bar", "orient": "vertical", "size": 23, "stroke": "black", "strokeWidth": 1.5}, "transform": [{"filter": "isValid(datum.q1)"}], "encoding": {"y": {"field": "q1", "type": "quantitative"}, "y2": {"field": "q3"}, "fill": {"field": "fill", "type": "nominal", "scale": {"domain": ["ns", "sigA", "sigB", "ref"], "range": ["white", "#1b9e77", "#d95f02", "#66a61e"]}, "legend": null}}},
    {"mark": {"type": "tick", "orient": "horizontal", "size": 23, "thickness": 1.5, "color": "black"}, "transform": [{"filter": "isValid(datum.med)"}], "encoding": {"y": {"field": "med", "type": "quantitative"}}},
    {"mark": {"type": "point", "filled": true, "size": 10, "color": "black", "opacity": 1}, "transform": [{"filter": "isValid(datum.out)"}], "encoding": {"y": {"field": "out", "type": "quantitative"}}},
    {"mark": {"type": "text", "fontSize": 12, "baseline": "middle", "dy": 3}, "transform": [{"filter": "isValid(datum.sy)"}], "encoding": {"y": {"field": "sy", "type": "quantitative"}, "text": {"field": "sig"}, "fill": {"field": "fill", "type": "nominal", "scale": {"domain": ["ns", "sigA", "sigB", "ref"], "range": ["white", "#1b9e77", "#d95f02", "#66a61e"]}, "legend": null}}}
   ]}
 ]}
]},
{"spacing": 7.5, "hconcat": [
 {"title": {"text": "Defensin2", "fontSize": 19, "fontStyle": "italic", "fontWeight": "normal", "anchor": "middle", "frame": "bounds", "dx": 13, "offset": 0, "baseline": "alphabetic"}, "spacing": 0, "bounds": "flush", "align": "none", "hconcat": [
  {"title": "0 days", "width": 122, "height": 208, "transform": [{"filter": "datum.gene == 'Defensin2' && datum.day == '0 days'"}],
   "encoding": {"x": {"field": "pos", "type": "quantitative", "title": null, "scale": {"domain": [0.4, 2.6], "nice": false, "zero": false}, "axis": {"values": [0.5, 1, 1.5, 2, 2.5], "labelExpr": "datum.value == 1 ? 'C' : datum.value == 2 ? 'P' : ''", "tickOpacity": {"condition": {"test": "datum.value % 1 == 0", "value": 1}, "value": 0}}}},
   "layer": [
    {"mark": {"type": "rule", "strokeDash": [3, 3], "strokeWidth": 1.2, "color": "black"}, "transform": [{"filter": "isValid(datum.q3)"}], "encoding": {"y": {"field": "q3", "type": "quantitative", "scale": {"domain": [-12.7, 6.7], "nice": false, "zero": false}, "axis": {"title": "ΔCq", "values": [-10, -5, 0, 5], "labelExpr": "'' + datum.value", "labelAngle": 270, "labelFontSize": 8, "tickSize": 5, "titleFontSize": 12, "titleFontWeight": "normal", "titlePadding": 1, "labelPadding": 2}}, "y2": {"field": "hi"}}},
    {"mark": {"type": "rule", "strokeDash": [3, 3], "strokeWidth": 1.2, "color": "black"}, "transform": [{"filter": "isValid(datum.q1)"}], "encoding": {"y": {"field": "lo", "type": "quantitative"}, "y2": {"field": "q1"}}},
    {"mark": {"type": "tick", "orient": "horizontal", "size": 11, "thickness": 1.5, "color": "black"}, "transform": [{"filter": "isValid(datum.hi)"}], "encoding": {"y": {"field": "hi", "type": "quantitative"}}},
    {"mark": {"type": "tick", "orient": "horizontal", "size": 11, "thickness": 1.5, "color": "black"}, "transform": [{"filter": "isValid(datum.lo)"}], "encoding": {"y": {"field": "lo", "type": "quantitative"}}},
    {"mark": {"type": "bar", "orient": "vertical", "size": 23, "stroke": "black", "strokeWidth": 1.5}, "transform": [{"filter": "isValid(datum.q1)"}], "encoding": {"y": {"field": "q1", "type": "quantitative"}, "y2": {"field": "q3"}, "fill": {"field": "fill", "type": "nominal", "scale": {"domain": ["ns", "sigA", "sigB", "ref"], "range": ["white", "#1b9e77", "#d95f02", "#66a61e"]}, "legend": null}}},
    {"mark": {"type": "tick", "orient": "horizontal", "size": 23, "thickness": 1.5, "color": "black"}, "transform": [{"filter": "isValid(datum.med)"}], "encoding": {"y": {"field": "med", "type": "quantitative"}}},
    {"mark": {"type": "point", "filled": true, "size": 10, "color": "black", "opacity": 1}, "transform": [{"filter": "isValid(datum.out)"}], "encoding": {"y": {"field": "out", "type": "quantitative"}}},
    {"mark": {"type": "text", "fontSize": 12, "baseline": "middle", "dy": 3}, "transform": [{"filter": "isValid(datum.sy)"}], "encoding": {"y": {"field": "sy", "type": "quantitative"}, "text": {"field": "sig"}, "fill": {"field": "fill", "type": "nominal", "scale": {"domain": ["ns", "sigA", "sigB", "ref"], "range": ["white", "#1b9e77", "#d95f02", "#66a61e"]}, "legend": null}}}
   ]},
  {"title": "6 days", "width": 122, "height": 208, "transform": [{"filter": "datum.gene == 'Defensin2' && datum.day == '6 days'"}],
   "encoding": {"x": {"field": "pos", "type": "quantitative", "title": null, "scale": {"domain": [0.34, 4.67], "nice": false, "zero": false}, "axis": {"values": [1, 2, 3, 4], "labelExpr": "['C','CN','P','PN'][datum.value - 1]"}}},
   "layer": [
    {"mark": {"type": "rule", "strokeDash": [3, 3], "strokeWidth": 1.2, "color": "black"}, "transform": [{"filter": "isValid(datum.q3)"}], "encoding": {"y": {"field": "q3", "type": "quantitative", "scale": {"domain": [-12.7, 6.7], "nice": false, "zero": false}, "axis": {"title": null, "values": [-10, -5, 0, 5], "labels": false, "ticks": false}}, "y2": {"field": "hi"}}},
    {"mark": {"type": "rule", "strokeDash": [3, 3], "strokeWidth": 1.2, "color": "black"}, "transform": [{"filter": "isValid(datum.q1)"}], "encoding": {"y": {"field": "lo", "type": "quantitative"}, "y2": {"field": "q1"}}},
    {"mark": {"type": "tick", "orient": "horizontal", "size": 11, "thickness": 1.5, "color": "black"}, "transform": [{"filter": "isValid(datum.hi)"}], "encoding": {"y": {"field": "hi", "type": "quantitative"}}},
    {"mark": {"type": "tick", "orient": "horizontal", "size": 11, "thickness": 1.5, "color": "black"}, "transform": [{"filter": "isValid(datum.lo)"}], "encoding": {"y": {"field": "lo", "type": "quantitative"}}},
    {"mark": {"type": "bar", "orient": "vertical", "size": 23, "stroke": "black", "strokeWidth": 1.5}, "transform": [{"filter": "isValid(datum.q1)"}], "encoding": {"y": {"field": "q1", "type": "quantitative"}, "y2": {"field": "q3"}, "fill": {"field": "fill", "type": "nominal", "scale": {"domain": ["ns", "sigA", "sigB", "ref"], "range": ["white", "#1b9e77", "#d95f02", "#66a61e"]}, "legend": null}}},
    {"mark": {"type": "tick", "orient": "horizontal", "size": 23, "thickness": 1.5, "color": "black"}, "transform": [{"filter": "isValid(datum.med)"}], "encoding": {"y": {"field": "med", "type": "quantitative"}}},
    {"mark": {"type": "point", "filled": true, "size": 10, "color": "black", "opacity": 1}, "transform": [{"filter": "isValid(datum.out)"}], "encoding": {"y": {"field": "out", "type": "quantitative"}}},
    {"mark": {"type": "text", "fontSize": 12, "baseline": "middle", "dy": 3}, "transform": [{"filter": "isValid(datum.sy)"}], "encoding": {"y": {"field": "sy", "type": "quantitative"}, "text": {"field": "sig"}, "fill": {"field": "fill", "type": "nominal", "scale": {"domain": ["ns", "sigA", "sigB", "ref"], "range": ["white", "#1b9e77", "#d95f02", "#66a61e"]}, "legend": null}}}
   ]},
  {"title": "9 days", "width": 122, "height": 208, "transform": [{"filter": "datum.gene == 'Defensin2' && datum.day == '9 days'"}],
   "encoding": {"x": {"field": "pos", "type": "quantitative", "title": null, "scale": {"domain": [0.34, 4.67], "nice": false, "zero": false}, "axis": {"values": [1, 2, 3, 4], "labelExpr": "['C','CN','P','PN'][datum.value - 1]"}}},
   "layer": [
    {"mark": {"type": "rule", "strokeDash": [3, 3], "strokeWidth": 1.2, "color": "black"}, "transform": [{"filter": "isValid(datum.q3)"}], "encoding": {"y": {"field": "q3", "type": "quantitative", "scale": {"domain": [-12.7, 6.7], "nice": false, "zero": false}, "axis": {"title": null, "values": [-10, -5, 0, 5], "labels": false, "ticks": false}}, "y2": {"field": "hi"}}},
    {"mark": {"type": "rule", "strokeDash": [3, 3], "strokeWidth": 1.2, "color": "black"}, "transform": [{"filter": "isValid(datum.q1)"}], "encoding": {"y": {"field": "lo", "type": "quantitative"}, "y2": {"field": "q1"}}},
    {"mark": {"type": "tick", "orient": "horizontal", "size": 11, "thickness": 1.5, "color": "black"}, "transform": [{"filter": "isValid(datum.hi)"}], "encoding": {"y": {"field": "hi", "type": "quantitative"}}},
    {"mark": {"type": "tick", "orient": "horizontal", "size": 11, "thickness": 1.5, "color": "black"}, "transform": [{"filter": "isValid(datum.lo)"}], "encoding": {"y": {"field": "lo", "type": "quantitative"}}},
    {"mark": {"type": "bar", "orient": "vertical", "size": 23, "stroke": "black", "strokeWidth": 1.5}, "transform": [{"filter": "isValid(datum.q1)"}], "encoding": {"y": {"field": "q1", "type": "quantitative"}, "y2": {"field": "q3"}, "fill": {"field": "fill", "type": "nominal", "scale": {"domain": ["ns", "sigA", "sigB", "ref"], "range": ["white", "#1b9e77", "#d95f02", "#66a61e"]}, "legend": null}}},
    {"mark": {"type": "tick", "orient": "horizontal", "size": 23, "thickness": 1.5, "color": "black"}, "transform": [{"filter": "isValid(datum.med)"}], "encoding": {"y": {"field": "med", "type": "quantitative"}}},
    {"mark": {"type": "point", "filled": true, "size": 10, "color": "black", "opacity": 1}, "transform": [{"filter": "isValid(datum.out)"}], "encoding": {"y": {"field": "out", "type": "quantitative"}}},
    {"mark": {"type": "text", "fontSize": 12, "baseline": "middle", "dy": 3}, "transform": [{"filter": "isValid(datum.sy)"}], "encoding": {"y": {"field": "sy", "type": "quantitative"}, "text": {"field": "sig"}, "fill": {"field": "fill", "type": "nominal", "scale": {"domain": ["ns", "sigA", "sigB", "ref"], "range": ["white", "#1b9e77", "#d95f02", "#66a61e"]}, "legend": null}}}
   ]},
  {"title": "15 days", "width": 122, "height": 208, "transform": [{"filter": "datum.gene == 'Defensin2' && datum.day == '15 days'"}],
   "encoding": {"x": {"field": "pos", "type": "quantitative", "title": null, "scale": {"domain": [0.34, 4.67], "nice": false, "zero": false}, "axis": {"values": [1, 2, 3, 4], "labelExpr": "['C','CN','P','PN'][datum.value - 1]"}}},
   "layer": [
    {"mark": {"type": "rule", "strokeDash": [3, 3], "strokeWidth": 1.2, "color": "black"}, "transform": [{"filter": "isValid(datum.q3)"}], "encoding": {"y": {"field": "q3", "type": "quantitative", "scale": {"domain": [-12.7, 6.7], "nice": false, "zero": false}, "axis": {"title": null, "values": [-10, -5, 0, 5], "labels": false, "ticks": false}}, "y2": {"field": "hi"}}},
    {"mark": {"type": "rule", "strokeDash": [3, 3], "strokeWidth": 1.2, "color": "black"}, "transform": [{"filter": "isValid(datum.q1)"}], "encoding": {"y": {"field": "lo", "type": "quantitative"}, "y2": {"field": "q1"}}},
    {"mark": {"type": "tick", "orient": "horizontal", "size": 11, "thickness": 1.5, "color": "black"}, "transform": [{"filter": "isValid(datum.hi)"}], "encoding": {"y": {"field": "hi", "type": "quantitative"}}},
    {"mark": {"type": "tick", "orient": "horizontal", "size": 11, "thickness": 1.5, "color": "black"}, "transform": [{"filter": "isValid(datum.lo)"}], "encoding": {"y": {"field": "lo", "type": "quantitative"}}},
    {"mark": {"type": "bar", "orient": "vertical", "size": 23, "stroke": "black", "strokeWidth": 1.5}, "transform": [{"filter": "isValid(datum.q1)"}], "encoding": {"y": {"field": "q1", "type": "quantitative"}, "y2": {"field": "q3"}, "fill": {"field": "fill", "type": "nominal", "scale": {"domain": ["ns", "sigA", "sigB", "ref"], "range": ["white", "#1b9e77", "#d95f02", "#66a61e"]}, "legend": null}}},
    {"mark": {"type": "tick", "orient": "horizontal", "size": 23, "thickness": 1.5, "color": "black"}, "transform": [{"filter": "isValid(datum.med)"}], "encoding": {"y": {"field": "med", "type": "quantitative"}}},
    {"mark": {"type": "point", "filled": true, "size": 10, "color": "black", "opacity": 1}, "transform": [{"filter": "isValid(datum.out)"}], "encoding": {"y": {"field": "out", "type": "quantitative"}}},
    {"mark": {"type": "text", "fontSize": 12, "baseline": "middle", "dy": 3}, "transform": [{"filter": "isValid(datum.sy)"}], "encoding": {"y": {"field": "sy", "type": "quantitative"}, "text": {"field": "sig"}, "fill": {"field": "fill", "type": "nominal", "scale": {"domain": ["ns", "sigA", "sigB", "ref"], "range": ["white", "#1b9e77", "#d95f02", "#66a61e"]}, "legend": null}}}
   ]}
 ]},
 {"title": {"text": "Lysozyme2", "fontSize": 19, "fontStyle": "italic", "fontWeight": "normal", "anchor": "middle", "frame": "bounds", "dx": 13, "offset": 0, "baseline": "alphabetic"}, "spacing": 0, "bounds": "flush", "align": "none", "hconcat": [
  {"title": "0 days", "width": 122, "height": 208, "transform": [{"filter": "datum.gene == 'Lysozyme2' && datum.day == '0 days'"}],
   "encoding": {"x": {"field": "pos", "type": "quantitative", "title": null, "scale": {"domain": [0.4, 2.6], "nice": false, "zero": false}, "axis": {"values": [0.5, 1, 1.5, 2, 2.5], "labelExpr": "datum.value == 1 ? 'C' : datum.value == 2 ? 'P' : ''", "tickOpacity": {"condition": {"test": "datum.value % 1 == 0", "value": 1}, "value": 0}}}},
   "layer": [
    {"mark": {"type": "rule", "strokeDash": [3, 3], "strokeWidth": 1.2, "color": "black"}, "transform": [{"filter": "isValid(datum.q3)"}], "encoding": {"y": {"field": "q3", "type": "quantitative", "scale": {"domain": [-12.7, 6.7], "nice": false, "zero": false}, "axis": {"title": "ΔCq", "values": [-10, -5, 0, 5], "labelExpr": "'' + datum.value", "labelAngle": 270, "labelFontSize": 8, "tickSize": 5, "titleFontSize": 12, "titleFontWeight": "normal", "titlePadding": 1, "labelPadding": 2}}, "y2": {"field": "hi"}}},
    {"mark": {"type": "rule", "strokeDash": [3, 3], "strokeWidth": 1.2, "color": "black"}, "transform": [{"filter": "isValid(datum.q1)"}], "encoding": {"y": {"field": "lo", "type": "quantitative"}, "y2": {"field": "q1"}}},
    {"mark": {"type": "tick", "orient": "horizontal", "size": 11, "thickness": 1.5, "color": "black"}, "transform": [{"filter": "isValid(datum.hi)"}], "encoding": {"y": {"field": "hi", "type": "quantitative"}}},
    {"mark": {"type": "tick", "orient": "horizontal", "size": 11, "thickness": 1.5, "color": "black"}, "transform": [{"filter": "isValid(datum.lo)"}], "encoding": {"y": {"field": "lo", "type": "quantitative"}}},
    {"mark": {"type": "bar", "orient": "vertical", "size": 23, "stroke": "black", "strokeWidth": 1.5}, "transform": [{"filter": "isValid(datum.q1)"}], "encoding": {"y": {"field": "q1", "type": "quantitative"}, "y2": {"field": "q3"}, "fill": {"field": "fill", "type": "nominal", "scale": {"domain": ["ns", "sigA", "sigB", "ref"], "range": ["white", "#1b9e77", "#d95f02", "#66a61e"]}, "legend": null}}},
    {"mark": {"type": "tick", "orient": "horizontal", "size": 23, "thickness": 1.5, "color": "black"}, "transform": [{"filter": "isValid(datum.med)"}], "encoding": {"y": {"field": "med", "type": "quantitative"}}},
    {"mark": {"type": "point", "filled": true, "size": 10, "color": "black", "opacity": 1}, "transform": [{"filter": "isValid(datum.out)"}], "encoding": {"y": {"field": "out", "type": "quantitative"}}},
    {"mark": {"type": "text", "fontSize": 12, "baseline": "middle", "dy": 3}, "transform": [{"filter": "isValid(datum.sy)"}], "encoding": {"y": {"field": "sy", "type": "quantitative"}, "text": {"field": "sig"}, "fill": {"field": "fill", "type": "nominal", "scale": {"domain": ["ns", "sigA", "sigB", "ref"], "range": ["white", "#1b9e77", "#d95f02", "#66a61e"]}, "legend": null}}}
   ]},
  {"title": "6 days", "width": 122, "height": 208, "transform": [{"filter": "datum.gene == 'Lysozyme2' && datum.day == '6 days'"}],
   "encoding": {"x": {"field": "pos", "type": "quantitative", "title": null, "scale": {"domain": [0.34, 4.67], "nice": false, "zero": false}, "axis": {"values": [1, 2, 3, 4], "labelExpr": "['C','CN','P','PN'][datum.value - 1]"}}},
   "layer": [
    {"mark": {"type": "rule", "strokeDash": [3, 3], "strokeWidth": 1.2, "color": "black"}, "transform": [{"filter": "isValid(datum.q3)"}], "encoding": {"y": {"field": "q3", "type": "quantitative", "scale": {"domain": [-12.7, 6.7], "nice": false, "zero": false}, "axis": {"title": null, "values": [-10, -5, 0, 5], "labels": false, "ticks": false}}, "y2": {"field": "hi"}}},
    {"mark": {"type": "rule", "strokeDash": [3, 3], "strokeWidth": 1.2, "color": "black"}, "transform": [{"filter": "isValid(datum.q1)"}], "encoding": {"y": {"field": "lo", "type": "quantitative"}, "y2": {"field": "q1"}}},
    {"mark": {"type": "tick", "orient": "horizontal", "size": 11, "thickness": 1.5, "color": "black"}, "transform": [{"filter": "isValid(datum.hi)"}], "encoding": {"y": {"field": "hi", "type": "quantitative"}}},
    {"mark": {"type": "tick", "orient": "horizontal", "size": 11, "thickness": 1.5, "color": "black"}, "transform": [{"filter": "isValid(datum.lo)"}], "encoding": {"y": {"field": "lo", "type": "quantitative"}}},
    {"mark": {"type": "bar", "orient": "vertical", "size": 23, "stroke": "black", "strokeWidth": 1.5}, "transform": [{"filter": "isValid(datum.q1)"}], "encoding": {"y": {"field": "q1", "type": "quantitative"}, "y2": {"field": "q3"}, "fill": {"field": "fill", "type": "nominal", "scale": {"domain": ["ns", "sigA", "sigB", "ref"], "range": ["white", "#1b9e77", "#d95f02", "#66a61e"]}, "legend": null}}},
    {"mark": {"type": "tick", "orient": "horizontal", "size": 23, "thickness": 1.5, "color": "black"}, "transform": [{"filter": "isValid(datum.med)"}], "encoding": {"y": {"field": "med", "type": "quantitative"}}},
    {"mark": {"type": "point", "filled": true, "size": 10, "color": "black", "opacity": 1}, "transform": [{"filter": "isValid(datum.out)"}], "encoding": {"y": {"field": "out", "type": "quantitative"}}},
    {"mark": {"type": "text", "fontSize": 12, "baseline": "middle", "dy": 3}, "transform": [{"filter": "isValid(datum.sy)"}], "encoding": {"y": {"field": "sy", "type": "quantitative"}, "text": {"field": "sig"}, "fill": {"field": "fill", "type": "nominal", "scale": {"domain": ["ns", "sigA", "sigB", "ref"], "range": ["white", "#1b9e77", "#d95f02", "#66a61e"]}, "legend": null}}}
   ]},
  {"title": "9 days", "width": 122, "height": 208, "transform": [{"filter": "datum.gene == 'Lysozyme2' && datum.day == '9 days'"}],
   "encoding": {"x": {"field": "pos", "type": "quantitative", "title": null, "scale": {"domain": [0.34, 4.67], "nice": false, "zero": false}, "axis": {"values": [1, 2, 3, 4], "labelExpr": "['C','CN','P','PN'][datum.value - 1]"}}},
   "layer": [
    {"mark": {"type": "rule", "strokeDash": [3, 3], "strokeWidth": 1.2, "color": "black"}, "transform": [{"filter": "isValid(datum.q3)"}], "encoding": {"y": {"field": "q3", "type": "quantitative", "scale": {"domain": [-12.7, 6.7], "nice": false, "zero": false}, "axis": {"title": null, "values": [-10, -5, 0, 5], "labels": false, "ticks": false}}, "y2": {"field": "hi"}}},
    {"mark": {"type": "rule", "strokeDash": [3, 3], "strokeWidth": 1.2, "color": "black"}, "transform": [{"filter": "isValid(datum.q1)"}], "encoding": {"y": {"field": "lo", "type": "quantitative"}, "y2": {"field": "q1"}}},
    {"mark": {"type": "tick", "orient": "horizontal", "size": 11, "thickness": 1.5, "color": "black"}, "transform": [{"filter": "isValid(datum.hi)"}], "encoding": {"y": {"field": "hi", "type": "quantitative"}}},
    {"mark": {"type": "tick", "orient": "horizontal", "size": 11, "thickness": 1.5, "color": "black"}, "transform": [{"filter": "isValid(datum.lo)"}], "encoding": {"y": {"field": "lo", "type": "quantitative"}}},
    {"mark": {"type": "bar", "orient": "vertical", "size": 23, "stroke": "black", "strokeWidth": 1.5}, "transform": [{"filter": "isValid(datum.q1)"}], "encoding": {"y": {"field": "q1", "type": "quantitative"}, "y2": {"field": "q3"}, "fill": {"field": "fill", "type": "nominal", "scale": {"domain": ["ns", "sigA", "sigB", "ref"], "range": ["white", "#1b9e77", "#d95f02", "#66a61e"]}, "legend": null}}},
    {"mark": {"type": "tick", "orient": "horizontal", "size": 23, "thickness": 1.5, "color": "black"}, "transform": [{"filter": "isValid(datum.med)"}], "encoding": {"y": {"field": "med", "type": "quantitative"}}},
    {"mark": {"type": "point", "filled": true, "size": 10, "color": "black", "opacity": 1}, "transform": [{"filter": "isValid(datum.out)"}], "encoding": {"y": {"field": "out", "type": "quantitative"}}},
    {"mark": {"type": "text", "fontSize": 12, "baseline": "middle", "dy": 3}, "transform": [{"filter": "isValid(datum.sy)"}], "encoding": {"y": {"field": "sy", "type": "quantitative"}, "text": {"field": "sig"}, "fill": {"field": "fill", "type": "nominal", "scale": {"domain": ["ns", "sigA", "sigB", "ref"], "range": ["white", "#1b9e77", "#d95f02", "#66a61e"]}, "legend": null}}}
   ]},
  {"title": "15 days", "width": 122, "height": 208, "transform": [{"filter": "datum.gene == 'Lysozyme2' && datum.day == '15 days'"}],
   "encoding": {"x": {"field": "pos", "type": "quantitative", "title": null, "scale": {"domain": [0.34, 4.67], "nice": false, "zero": false}, "axis": {"values": [1, 2, 3, 4], "labelExpr": "['C','CN','P','PN'][datum.value - 1]"}}},
   "layer": [
    {"mark": {"type": "rule", "strokeDash": [3, 3], "strokeWidth": 1.2, "color": "black"}, "transform": [{"filter": "isValid(datum.q3)"}], "encoding": {"y": {"field": "q3", "type": "quantitative", "scale": {"domain": [-12.7, 6.7], "nice": false, "zero": false}, "axis": {"title": null, "values": [-10, -5, 0, 5], "labels": false, "ticks": false}}, "y2": {"field": "hi"}}},
    {"mark": {"type": "rule", "strokeDash": [3, 3], "strokeWidth": 1.2, "color": "black"}, "transform": [{"filter": "isValid(datum.q1)"}], "encoding": {"y": {"field": "lo", "type": "quantitative"}, "y2": {"field": "q1"}}},
    {"mark": {"type": "tick", "orient": "horizontal", "size": 11, "thickness": 1.5, "color": "black"}, "transform": [{"filter": "isValid(datum.hi)"}], "encoding": {"y": {"field": "hi", "type": "quantitative"}}},
    {"mark": {"type": "tick", "orient": "horizontal", "size": 11, "thickness": 1.5, "color": "black"}, "transform": [{"filter": "isValid(datum.lo)"}], "encoding": {"y": {"field": "lo", "type": "quantitative"}}},
    {"mark": {"type": "bar", "orient": "vertical", "size": 23, "stroke": "black", "strokeWidth": 1.5}, "transform": [{"filter": "isValid(datum.q1)"}], "encoding": {"y": {"field": "q1", "type": "quantitative"}, "y2": {"field": "q3"}, "fill": {"field": "fill", "type": "nominal", "scale": {"domain": ["ns", "sigA", "sigB", "ref"], "range": ["white", "#1b9e77", "#d95f02", "#66a61e"]}, "legend": null}}},
    {"mark": {"type": "tick", "orient": "horizontal", "size": 23, "thickness": 1.5, "color": "black"}, "transform": [{"filter": "isValid(datum.med)"}], "encoding": {"y": {"field": "med", "type": "quantitative"}}},
    {"mark": {"type": "point", "filled": true, "size": 10, "color": "black", "opacity": 1}, "transform": [{"filter": "isValid(datum.out)"}], "encoding": {"y": {"field": "out", "type": "quantitative"}}},
    {"mark": {"type": "text", "fontSize": 12, "baseline": "middle", "dy": 3}, "transform": [{"filter": "isValid(datum.sy)"}], "encoding": {"y": {"field": "sy", "type": "quantitative"}, "text": {"field": "sig"}, "fill": {"field": "fill", "type": "nominal", "scale": {"domain": ["ns", "sigA", "sigB", "ref"], "range": ["white", "#1b9e77", "#d95f02", "#66a61e"]}, "legend": null}}}
   ]}
 ]}
]}
],
"config": {
 "font": "DejaVu Sans",
 "background": "white",
 "view": {"stroke": "black", "strokeWidth": 1.5},
 "title": {"fontSize": 12, "fontWeight": "normal", "color": "black", "offset": 2, "font": "DejaVu Sans"},
 "axis": {"grid": true, "gridColor": "#d9d9d9", "gridWidth": 1.3, "domain": false, "tickColor": "black", "tickWidth": 1, "labelColor": "black", "titleColor": "black", "labelFont": "DejaVu Sans", "titleFont": "DejaVu Sans"},
 "axisX": {"labelFontSize": 10.5, "tickSize": 5, "labelPadding": 4, "labelOverlap": false, "labelFlush": false}
}
}
